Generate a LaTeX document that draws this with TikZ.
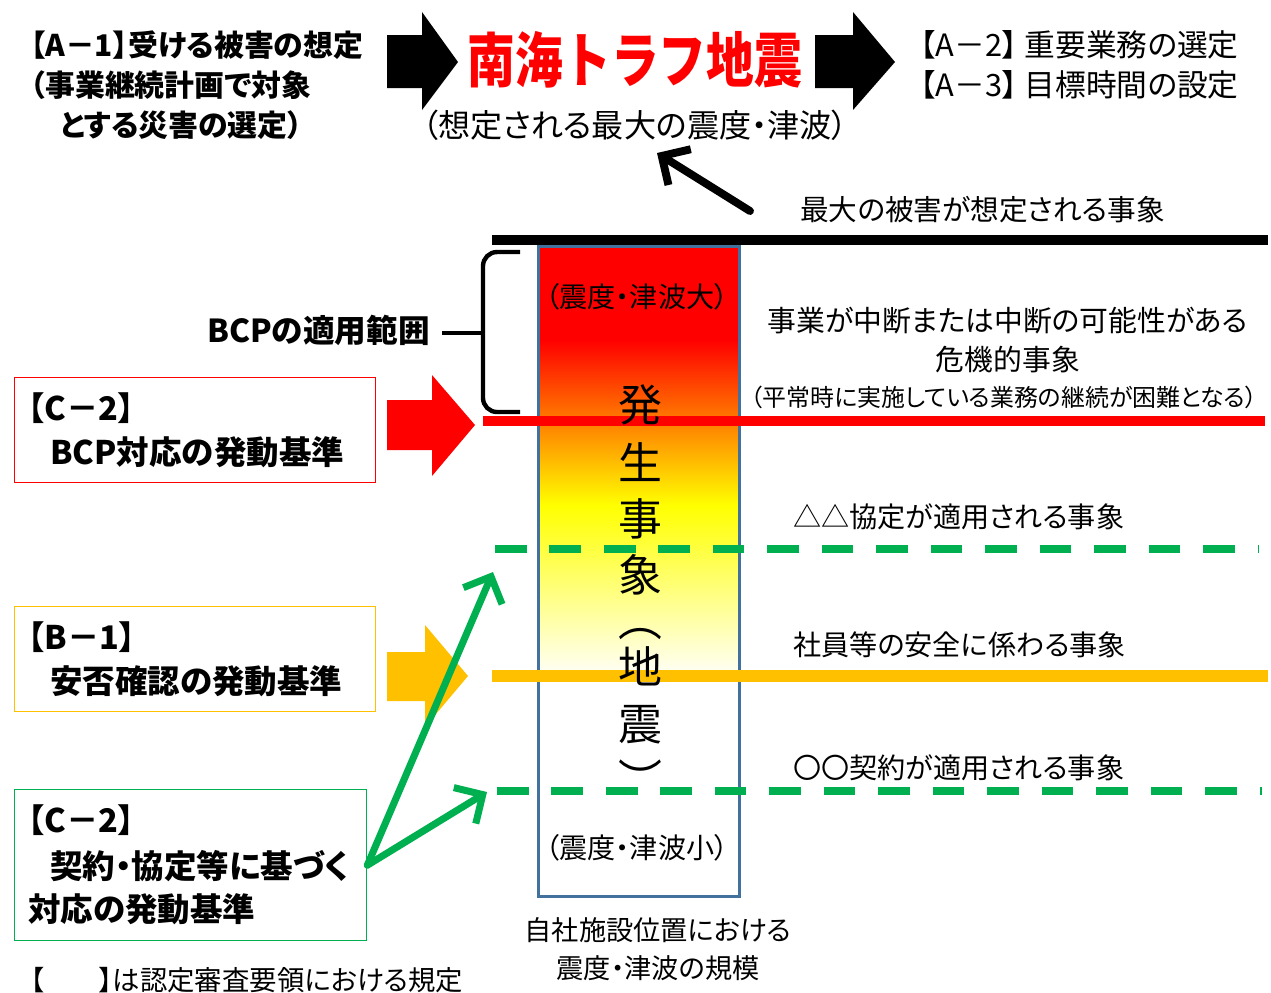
\documentclass[tikz,border=0pt]{standalone}
\usepackage{fontspec}
\usepackage{tikz}
\usetikzlibrary{arrows.meta}
\newfontfamily\jp[RawFeature=+palt]{Noto Sans CJK JP}
\newfontfamily\jpfull{Noto Sans CJK JP}
\newfontfamily\jptitle[FakeStretch=0.8]{Noto Sans CJK JP}
\definecolor{bcpred}{RGB}{255,0,0}
\definecolor{safeorange}{RGB}{255,192,0}
\definecolor{pactgreen}{RGB}{0,176,80}
\definecolor{colblue}{RGB}{65,113,156}

\begin{document}
\begin{tikzpicture}[x=0.02cm, y=-0.02cm,
  txt/.style={font=\jp\fontsize{16}{22.7}\selectfont, inner sep=0pt},
  smalltxt/.style={font=\jp\fontsize{13.6}{16}\selectfont, inner sep=0pt},
  headtxt/.style={font=\jp\bfseries\fontsize{17}{22.7}\selectfont, inner sep=0pt},
  boxtxt/.style={font=\jp\bfseries\fontsize{18.5}{22}\selectfont, inner sep=0pt, anchor=west},
  vtxt/.style={font=\jpfull\fontsize{25}{30}\selectfont, inner sep=0pt},
  keybox/.style={draw=#1, line width=0.8pt, anchor=north west, minimum width=7.22cm, minimum height=2.1cm, inner sep=0pt},
  pact/.style={draw=pactgreen, line width=5pt, dash pattern=on 18pt off 13pt},
  pointer/.style={line width=#1, line cap=round, -{Straight Barb[length=12pt, width=24pt]}},
]
\useasboundingbox (0,0) rectangle (1271,992);

% Top row
\node (aone) [headtxt, anchor=west, align=left] at (30,85)
  {【A－1】受ける被害の想定\\（事業継続計画で対象\\　とする災害の選定）};
\fill[black] (387,35) -- (422,35) -- (422,12) -- (458,62) -- (422,110) -- (422,88) -- (387,88) -- cycle;
\node (quake) [font=\jptitle\bfseries\fontsize{34}{40}\selectfont, text=bcpred, inner sep=0pt] at (635,60) {南海トラフ地震};
\node (sub) [txt, font=\jp\fontsize{18.3}{20}\selectfont] at (635,125) {（想定される最大の震度・津波）};
\fill[black] (815,35) -- (853,35) -- (853,12) -- (895,62) -- (853,110) -- (853,88) -- (815,88) -- cycle;
\node (atwo) [txt, font=\jp\fontsize{17.5}{22.7}\selectfont, anchor=west, align=left] at (920,65)
  {【A－2】 重要業務の選定\\【A－3】 目標時間の設定};

% Worst case
\node (maxlbl) [txt, font=\jp\fontsize{16.3}{20}\selectfont, anchor=west] at (800,210) {最大の被害が想定される事象};
\coordinate (maxtail) at (750,211);
\coordinate (maxtip) at (657,153);
\draw[pointer=4.5pt] (maxtail) -- (maxtip);
\draw[line width=5.7pt] (492,240) -- (1268,240);

% Intensity column
\fill[bcpred] (537,245) rectangle (738,340);
\shade[top color=bcpred, bottom color=yellow] (537,340) rectangle (738,505);
\shade[top color=yellow, bottom color=white] (537,505) rectangle (738,680);
\node (col) [draw=colblue, line width=1.7pt, anchor=north west, minimum width=4.02cm, minimum height=13cm, inner sep=0pt] at (537,245) {};
\node (big) [txt] at (637,297) {（震度・津波大）};
\node (small) [txt] at (637,848) {（震度・津波小）};
\node (scale) [txt, align=center, font=\jp\fontsize{15.5}{21.5}\selectfont] at (658,949) {自社施設位置における\\震度・津波の規模};

% BCP range
\node (bcprange) [headtxt, font=\jp\bfseries\fontsize{18}{20}\selectfont, anchor=east] at (430,330) {BCPの適用範囲};
\draw[line width=2.5pt, rounded corners=8pt] (520,252) -| (483,333) |- (520,412);
\draw[line width=2.5pt] (bcprange.east) ++(12,3) -- (483,333);
\node (crisis) [txt, font=\jp\fontsize{16.4}{22.7}\selectfont, align=center] at (1008,340) {事業が中断または中断の可能性がある\\危機的事象};
\node (normal) [smalltxt] at (1004,397) {（平常時に実施している業務の継続が困難となる）};
\draw[bcpred, line width=5.7pt] (483,421) -- (1265,421);

% C-2 BCP
\node (bcpbox) [keybox=bcpred] at (14,377) {};
\node (bcpkey) [boxtxt] at (28,408) {【C－2】};
\node (bcptrig) [boxtxt] at (50,452) {BCP対応の発動基準};
\fill[bcpred] (387,400) -- (432,400) -- (432,375) -- (475,425) -- (432,476) -- (432,450) -- (387,450) -- cycle;

% Agreement line
\node (agree) [txt, anchor=west] at (793,517) {△△協定が適用される事象};
\draw[pact] (495,549) -- (1258,549);

% B-1 safety
\node (safebox) [keybox=safeorange] at (14,606) {};
\node (safekey) [boxtxt] at (28,637) {【B－1】};
\node (safetrig) [boxtxt] at (50,681) {安否確認の発動基準};
\fill[safeorange] (387,652) -- (425,652) -- (425,625) -- (468,676) -- (425,727) -- (425,701) -- (387,701) -- cycle;
\node (staff) [txt, anchor=west] at (793,645) {社員等の安全に係わる事象};
\draw[safeorange, line width=6.8pt] (492,676) -- (1268,676);

% Contract line
\node (contract) [txt, anchor=west] at (793,768) {〇〇契約が適用される事象};
\draw[pact] (497,791) -- (1262,791);

% Vertical label
\foreach \ch/\y [count=\i] in {発/405, 生/462, 事/519, 象/575, ︵/634, 地/666, 震/725, ︶/778}
  \node (v\i) [vtxt] at (640,\y) {\ch};

% C-2 agreements
\node (pactbox) [keybox=pactgreen, minimum width=7.04cm, minimum height=3.02cm] at (14,789) {};
\node (pactkey) [boxtxt] at (28,820) {【C－2】};
\node (pacttrig) [boxtxt] at (50,866) {契約・協定等に基づく};
\node (pacttrig2) [boxtxt] at (28,909) {対応の発動基準};
\coordinate (pactup) at (493,572);
\coordinate (pactdown) at (487,792);
\draw[pointer=4pt, pactgreen] (pactbox.east) -- (pactup);
\draw[pointer=4pt, pactgreen] (pactbox.east) -- (pactdown);

% Note
\node (note) [txt, font=\jp\fontsize{15.6}{20}\selectfont, anchor=west] at (30,980) {【　　】は認定審査要領における規定};
\end{tikzpicture}
\end{document}
